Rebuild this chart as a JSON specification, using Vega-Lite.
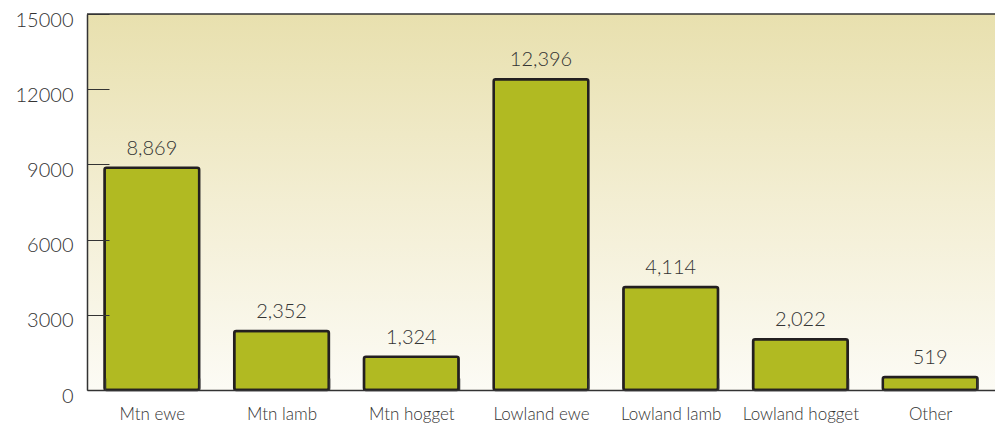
{
  "$schema": "https://vega.github.io/schema/vega-lite/v6.json",
  "autosize": "none",
  "width": 908,
  "height": 376,
  "padding": {"left": 87, "top": 14, "right": 0, "bottom": 37},
  "background": "white",
  "config": {
    "view": {"stroke": null},
    "font": "Lato",
    "axisBand": {"tickBand": "extent", "tickSize": -12, "tickColor": "#333333", "tickWidth": 1.5, "ticks": true},
    "axisDiscrete": {"tickBand": "extent", "tickSize": -12, "tickColor": "#333333", "tickWidth": 1.5, "ticks": true}
  },
  "datasets": {
    "sheep": [
      {"category": "Mtn ewe", "value": 8869},
      {"category": "Mtn lamb", "value": 2352},
      {"category": "Mtn hogget", "value": 1324},
      {"category": "Lowland ewe", "value": 12396},
      {"category": "Lowland lamb", "value": 4114},
      {"category": "Lowland hogget", "value": 2022},
      {"category": "Other", "value": 519}
    ],
    "bg": [{"lo": 0, "hi": 15000}]
  },
  "layer": [
    {
      "data": {"name": "bg"},
      "mark": {
        "type": "rect",
        "color": {
          "gradient": "linear",
          "x1": 0, "y1": 0, "x2": 0, "y2": 1,
          "stops": [
            {"offset": 0, "color": "#e8e0ae"},
            {"offset": 0.5, "color": "#f3eed3"},
            {"offset": 1, "color": "#fcfbf5"}
          ]
        }
      },
      "encoding": {
        "y": {"field": "lo", "type": "quantitative", "scale": {"domain": [0, 15000], "nice": false}},
        "y2": {"field": "hi"}
      }
    },
    {
      "data": {"name": "bg"},
      "mark": {"type": "rule", "color": "#333333", "strokeWidth": 1.5},
      "encoding": {
        "y": {"field": "hi", "type": "quantitative"}
      }
    },
    {
      "data": {"name": "sheep"},
      "mark": {"type": "bar", "color": "#b1ba22", "stroke": "#231f20", "strokeWidth": 2.5, "cornerRadius": 2},
      "encoding": {
        "x": {
          "field": "category", "type": "nominal", "sort": null,
          "scale": {"paddingInner": 0.27, "paddingOuter": 0.135},
          "axis": {
            "title": null, "labelAngle": 0, "labelFontSize": 17, "labelFontWeight": 300, "labelColor": "#333333",
            "labelPadding": 28, "tickBand": "extent", "ticks": true, "tickSize": -12, "tickColor": "#333333", "tickWidth": 1.5,
            "domainColor": "#333333", "domainWidth": 1.5, "labelFont": "Lato", "zindex": 2
          }
        },
        "y": {
          "field": "value", "type": "quantitative",
          "scale": {"domain": [0, 15000], "nice": false},
          "axis": {
            "title": null, "values": [0, 3000, 6000, 9000, 12000, 15000], "format": "d",
            "labelFontSize": 20, "labelFontWeight": 300, "labelColor": "#333333", "labelPadding": 36,
            "labelOffset": 6, "tickSize": -22, "tickColor": "#333333",
            "domainColor": "#333333", "domainWidth": 1.5, "grid": false, "labelFont": "Lato", "zindex": 2
          }
        }
      }
    },
    {
      "data": {"name": "sheep"},
      "mark": {"type": "text", "dy": -19, "fontSize": 20, "fontWeight": 300, "color": "#333333", "font": "Lato"},
      "encoding": {
        "x": {"field": "category", "type": "nominal", "sort": null},
        "y": {"field": "value", "type": "quantitative"},
        "text": {"field": "value", "type": "quantitative", "format": ","}
      }
    }
  ]
}
